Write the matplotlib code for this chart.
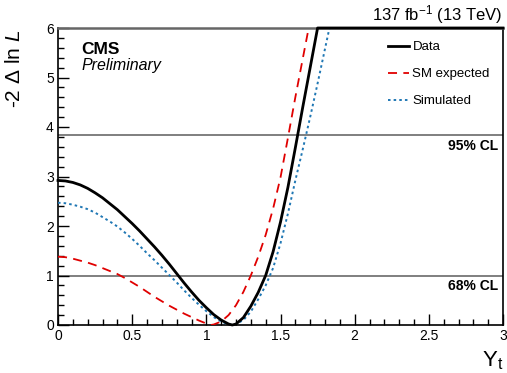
import numpy as np
import matplotlib
matplotlib.use("Agg")
import matplotlib.pyplot as plt
from matplotlib.ticker import MultipleLocator

plt.rcParams['font.family'] = ['Liberation Sans', 'DejaVu Sans']
plt.rcParams['mathtext.fontset'] = 'custom'
plt.rcParams['mathtext.rm'] = 'Liberation Sans'
plt.rcParams['mathtext.it'] = 'Liberation Sans:italic'

# ---- data ----
data_x = [0.00, 0.05, 0.10, 0.15, 0.20, 0.25, 0.30, 0.35, 0.40, 0.45, 0.50, 0.55, 0.60, 0.65,
          0.70, 0.75, 0.80, 0.85, 0.90, 0.95, 1.00, 1.05, 1.10, 1.15, 1.175, 1.20, 1.25, 1.30,
          1.35, 1.40, 1.45, 1.50, 1.55, 1.60, 1.65, 1.70, 1.75, 2.0, 2.5, 3.0]
data_y = [2.92, 2.91, 2.88, 2.83, 2.76, 2.67, 2.57, 2.45, 2.33, 2.19, 2.05, 1.90, 1.74, 1.58,
          1.41, 1.23, 1.04, 0.85, 0.67, 0.50, 0.35, 0.21, 0.10, 0.02, 0.00, 0.02, 0.15, 0.38,
          0.66, 1.00, 1.48, 2.08, 2.78, 3.58, 4.40, 5.20, 6.00, 6.00, 6.00, 6.00]

sm_x = [0.00, 0.05, 0.10, 0.15, 0.20, 0.25, 0.30, 0.35, 0.40, 0.45, 0.50, 0.55, 0.60, 0.65,
        0.70, 0.75, 0.80, 0.85, 0.90, 0.95, 1.00, 1.03, 1.05, 1.10, 1.15, 1.20, 1.25, 1.30,
        1.35, 1.40, 1.45, 1.50, 1.55, 1.60, 1.65, 1.69]
sm_y = [1.38, 1.37, 1.34, 1.30, 1.26, 1.21, 1.15, 1.09, 1.03, 0.95, 0.86, 0.77, 0.67, 0.57,
        0.48, 0.39, 0.31, 0.23, 0.16, 0.09, 0.03, 0.00, 0.01, 0.07, 0.20, 0.40, 0.67, 1.00,
        1.38, 1.82, 2.35, 2.98, 3.78, 4.60, 5.38, 6.00]

sim_x = [0.00, 0.05, 0.10, 0.15, 0.20, 0.25, 0.30, 0.35, 0.40, 0.45, 0.50, 0.55, 0.60, 0.65,
         0.70, 0.75, 0.80, 0.85, 0.90, 0.95, 1.00, 1.05, 1.10, 1.15, 1.175, 1.20, 1.25, 1.30,
         1.35, 1.40, 1.45, 1.50, 1.55, 1.60, 1.65, 1.70, 1.75, 1.80, 1.83]
sim_y = [2.47, 2.46, 2.43, 2.39, 2.34, 2.27, 2.18, 2.09, 1.99, 1.87, 1.74, 1.60, 1.45, 1.31,
         1.16, 1.01, 0.86, 0.70, 0.55, 0.41, 0.28, 0.16, 0.07, 0.01, 0.00, 0.02, 0.10, 0.27,
         0.52, 0.80, 1.15, 1.65, 2.25, 2.92, 3.55, 4.20, 4.88, 5.58, 6.00]

cl_levels = [1.0, 3.84]
cl_labels = ["68% CL", "95% CL"]

# ---- figure ----
W, H = 507, 373
fig = plt.figure(figsize=(W / 100, H / 100), dpi=100)
ax = fig.add_axes([58 / W, 1 - 325 / H, (503 - 58) / W, (325 - 28) / H])

for lvl in cl_levels:
    ax.axhline(lvl, color='#7f7f7f', lw=1.4, zorder=1)

ax.plot(sm_x, sm_y, color='#e00000', lw=1.3, dashes=(5, 3.5), label='SM expected', zorder=3)
ax.plot(sim_x, sim_y, color='#1f77b4', lw=1.4, dashes=(1.3, 1.6), label='Simulated', zorder=3)
ax.plot(data_x, data_y, color='black', lw=2.0, label='Data', zorder=4, clip_on=False)

ax.set_xlim(0, 3)
ax.set_ylim(0, 6)
ax.xaxis.set_major_locator(MultipleLocator(0.5))
ax.xaxis.set_minor_locator(MultipleLocator(0.1))
ax.yaxis.set_major_locator(MultipleLocator(1))
ax.yaxis.set_minor_locator(MultipleLocator(0.2))
ax.tick_params(which='both', direction='in', top=False, right=False, labelsize=10, pad=3)
ax.tick_params(which='major', length=8, width=1)
ax.tick_params(which='minor', length=4, width=1)
ax.set_xticks([0, 0.5, 1, 1.5, 2, 2.5, 3])
ax.set_xticklabels(['0', '0.5', '1', '1.5', '2', '2.5', '3'])

for s in ['left', 'right', 'bottom']:
    ax.spines[s].set_color('black')
    ax.spines[s].set_linewidth(1.2)
ax.spines['top'].set_color('#666666')
ax.spines['top'].set_linewidth(1.8)

# axis labels
fig.text(15 / W, 1 - 30 / H, r'-2 $\Delta$ ln $L$', rotation=90, ha='center', va='top', fontsize=15)
fig.text(503 / W, 1 - 372 / H, r'Y$_{\mathrm{t}}$', ha='right', va='bottom', fontsize=16)

# header texts
fig.text(502 / W, 1 - 20 / H, r'137 fb$^{-1}$ (13 TeV)', ha='right', va='baseline', fontsize=12)
fig.text(81 / W, 1 - 54 / H, 'CMS', ha='left', va='baseline', fontsize=12.5, fontweight='bold')
fig.text(81 / W, 1 - 70 / H, 'Preliminary', ha='left', va='baseline', fontsize=11.5, fontstyle='italic')

# CL labels
for lvl, lab in zip(cl_levels, cl_labels):
    ax.text(0.988, lvl - 0.08, lab, transform=ax.get_yaxis_transform(), ha='right', va='top',
            fontsize=10, fontweight='bold')

# legend
h, l = ax.get_legend_handles_labels()
order = [2, 0, 1]
leg = fig.legend([h[i] for i in order], [l[i] for i in order],
                 loc='upper left', bbox_to_anchor=(388 / W, 1 - 41 / H),
                 frameon=False, fontsize=9.5, handlelength=1.6, handletextpad=0.25,
                 labelspacing=1.12, borderpad=0, borderaxespad=0)

fig.savefig('out.png', dpi=100)
